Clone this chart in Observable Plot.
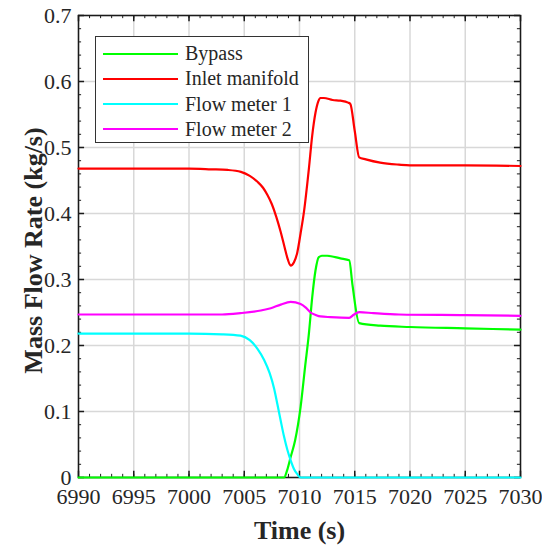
<!DOCTYPE html>
<html>
<head>
<meta charset="utf-8">
<script src="https://cdn.jsdelivr.net/npm/d3@7"></script>
<script src="https://cdn.jsdelivr.net/npm/@observablehq/plot@0.6"></script>
<style>
  body { margin: 0; background: #fff; }
  #wrap { position: relative; width: 542px; height: 546px; font-family: "Liberation Serif", "Times New Roman", serif; }
  #legend { position: absolute; left: 95px; top: 36px; width: 212px; height: 105px; border: 1px solid #333; background: #fff; box-sizing: content-box; }
  .row { position: absolute; left: 0; height: 25px; display: flex; align-items: center; font-size: 20px; color: #262626; }
  .sw { width: 75px; height: 0; border-top: 2.5px solid; margin-left: 7px; margin-right: 7px; }
</style>
</head>
<body>
<div id="wrap"></div>
<script>
// ---- data ----
const seriesNames = ["Bypass", "Inlet manifold", "Flow meter 1", "Flow meter 2"];
const seriesColors = ["#00ff00", "#ff0000", "#00ffff", "#ff00ff"];

const bypassT = [6990, 7008.6, 7008.9, 7009.2, 7009.6, 7010.1, 7010.5, 7010.85, 7011.15, 7011.45, 7011.75, 7012.05, 7012.5, 7013.7, 7014.5, 7014.8, 7015.4, 7017.3, 7020, 7025, 7030];
const bypassV = [0, 0, 0.012, 0.031, 0.056, 0.107, 0.167, 0.218, 0.273, 0.314, 0.334, 0.336, 0.336, 0.332, 0.329, 0.291, 0.234, 0.230, 0.228, 0.226, 0.224];

const inletT = [6990, 7000, 7002, 7003.5, 7004.7, 7005.5, 7006.2, 7006.7, 7007.1, 7007.5, 7007.9, 7008.3, 7008.65, 7008.95, 7009.2, 7009.5, 7009.8, 7010.1, 7010.4, 7010.85, 7011.15, 7011.45, 7011.7, 7011.9, 7012.2, 7013.0, 7013.7, 7014.4, 7014.6, 7015.0, 7015.4, 7016.0, 7017.3, 7019, 7020, 7025, 7030];
const inletV = [0.468, 0.468, 0.467, 0.466, 0.463, 0.457, 0.448, 0.439, 0.428, 0.414, 0.395, 0.372, 0.349, 0.330, 0.321, 0.326, 0.341, 0.370, 0.402, 0.468, 0.518, 0.553, 0.570, 0.575, 0.575, 0.572, 0.571, 0.568, 0.566, 0.525, 0.485, 0.482, 0.477, 0.474, 0.473, 0.473, 0.472];

const flow1T = [6990, 7000, 7003, 7004.66, 7005.5, 7006.2, 7006.8, 7007.3, 7007.7, 7008.0, 7008.3, 7008.6, 7008.9, 7009.2, 7009.5, 7009.8, 7010.1, 7030];
const flow1V = [0.218, 0.218, 0.217, 0.215, 0.208, 0.195, 0.178, 0.158, 0.135, 0.111, 0.086, 0.062, 0.042, 0.026, 0.013, 0.005, 0, 0];

const flow2T = [6990, 7003, 7004.66, 7006.5, 7007.4, 7008.3, 7009.2, 7010.1, 7010.6, 7011.0, 7011.5, 7011.9, 7012.8, 7014.5, 7014.9, 7015.4, 7016.7, 7019, 7025, 7030];
const flow2V = [0.247, 0.247, 0.249, 0.253, 0.2565, 0.262, 0.266, 0.263, 0.257, 0.250, 0.246, 0.244, 0.243, 0.242, 0.2465, 0.2505, 0.249, 0.247, 0.246, 0.245];

const xTicks = [6990, 6995, 7000, 7005, 7010, 7015, 7020, 7025, 7030];
const yTicks = [0, 0.1, 0.2, 0.3, 0.4, 0.5, 0.6, 0.7];
const xMinor = d3.range(6990, 7031, 1);
const yMinor = d3.range(0, 36).map(i => +(i * 0.02).toFixed(2));
const xLabel = "Time (s)";
const yLabel = "Mass Flow Rate (kg/s)";

// ---- build table ----
const allT = [bypassT, inletT, flow1T, flow2T];
const allV = [bypassV, inletV, flow1V, flow2V];
const rows = [];
seriesNames.forEach((name, i) => allT[i].forEach((t, j) => rows.push({series: name, t, v: allV[i][j]})));

const xDom = [6990, 7030], yDom = [0, 0.7];
const majLenX = 0.55, minLenX = 0.28;     // tick lengths in data units
const majLenY = 0.0095, minLenY = 0.0048;

const plot = Plot.plot({
  width: 542,
  height: 546,
  marginLeft: 78,
  marginRight: 22,
  marginTop: 15,
  marginBottom: 69,
  style: {fontFamily: "'Liberation Serif', 'Times New Roman', serif", fontSize: "22px", color: "#262626", background: "white"},
  x: {domain: xDom},
  y: {domain: yDom},
  color: {domain: seriesNames, range: seriesColors},
  marks: [
    Plot.gridX(xTicks, {stroke: "#d8d8d8", strokeOpacity: 1, strokeWidth: 1.5}),
    Plot.gridY(yTicks, {stroke: "#d8d8d8", strokeOpacity: 1, strokeWidth: 1.5}),
    Plot.frame({stroke: "#1a1a1a", strokeWidth: 1.5}),
    // inward ticks, bottom and top
    Plot.ruleX(xMinor, {x: d => d, y1: yDom[0], y2: yDom[0] + minLenY, stroke: "#1a1a1a"}),
    Plot.ruleX(xMinor, {x: d => d, y1: yDom[1], y2: yDom[1] - minLenY, stroke: "#1a1a1a"}),
    Plot.ruleX(xTicks, {x: d => d, y1: yDom[0], y2: yDom[0] + majLenY, stroke: "#1a1a1a", strokeWidth: 1.5}),
    Plot.ruleX(xTicks, {x: d => d, y1: yDom[1], y2: yDom[1] - majLenY, stroke: "#1a1a1a", strokeWidth: 1.5}),
    // inward ticks, left and right
    Plot.ruleY(yMinor, {y: d => d, x1: xDom[0], x2: xDom[0] + minLenX, stroke: "#1a1a1a"}),
    Plot.ruleY(yMinor, {y: d => d, x1: xDom[1], x2: xDom[1] - minLenX, stroke: "#1a1a1a"}),
    Plot.ruleY(yTicks, {y: d => d, x1: xDom[0], x2: xDom[0] + majLenX, stroke: "#1a1a1a", strokeWidth: 1.5}),
    Plot.ruleY(yTicks, {y: d => d, x1: xDom[1], x2: xDom[1] - majLenX, stroke: "#1a1a1a", strokeWidth: 1.5}),
    Plot.axisX(xTicks, {tickSize: 0, tickPadding: 11, tickFormat: d => String(d), label: null, fill: "#262626"}),
    Plot.axisY(yTicks, {tickSize: 0, tickPadding: 7, tickFormat: d => String(d), label: null, fill: "#262626"}),
    Plot.text([xLabel], {frameAnchor: "bottom", dy: 53, lineAnchor: "middle", textAnchor: "middle", fontWeight: "bold", fontSize: 26, fill: "#262626"}),
    Plot.text([yLabel], {frameAnchor: "left", dx: -45, dy: 4, rotate: -90, lineAnchor: "middle", textAnchor: "middle", fontWeight: "bold", fontSize: 26, fill: "#262626"}),
    Plot.line(rows, {x: "t", y: "v", z: "series", stroke: "series", strokeWidth: 2.2, curve: "monotone-x"})
  ]
});

const wrap = document.getElementById("wrap");
wrap.appendChild(plot);

// legend overlay
const lg = document.createElement("div");
lg.id = "legend";
seriesNames.forEach((name, i) => {
  const r = document.createElement("div");
  r.className = "row";
  r.style.top = (4 + i * 25.3) + "px";
  const sw = document.createElement("span");
  sw.className = "sw";
  sw.style.borderTopColor = seriesColors[i];
  const tx = document.createElement("span");
  tx.textContent = name;
  r.appendChild(sw);
  r.appendChild(tx);
  lg.appendChild(r);
});
wrap.appendChild(lg);
</script>
</body>
</html>
